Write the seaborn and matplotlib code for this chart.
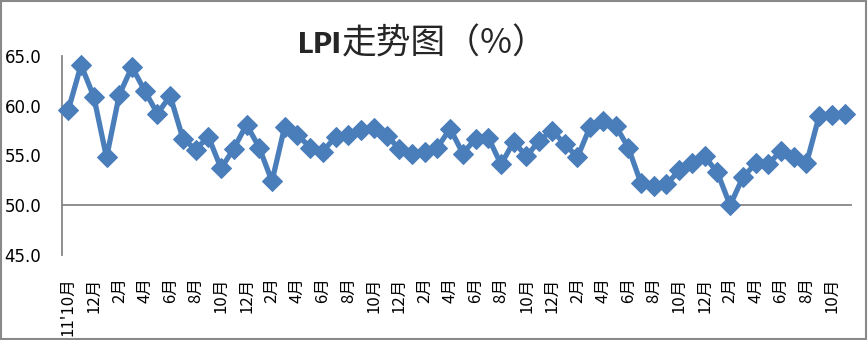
import matplotlib
matplotlib.use("Agg")
import matplotlib.pyplot as plt
import matplotlib.patches as mpatches
import numpy as np
import pandas as pd
import seaborn as sns

# ---- data ----
months = (["11'10月", "11月", "12月"]
          + [f"{m}月" for m in range(1, 13)] * 4
          + [f"{m}月" for m in range(1, 12)])
lpi = [59.6, 64.1, 60.9, 54.8, 61.1, 63.9, 61.5, 59.2, 61.0, 56.7,
       55.6, 56.9, 53.7, 55.7, 58.1, 55.8, 52.4, 57.9, 57.1, 55.8,
       55.4, 56.9, 57.1, 57.6, 57.8, 57.0, 55.7, 55.2, 55.4, 55.8,
       57.7, 55.2, 56.7, 56.8, 54.1, 56.4, 54.9, 56.5, 57.5, 56.2,
       54.8, 57.9, 58.5, 58.0, 55.8, 52.2, 51.9, 52.1, 53.5, 54.2,
       54.9, 53.3, 50.0, 52.8, 54.2, 54.1, 55.5, 54.8, 54.2, 59.0,
       59.1, 59.2]
y_ticks = [45.0, 50.0, 55.0, 60.0, 65.0]
title_latin = "LPI"
title_cjk = "走势图（%）"

df = pd.DataFrame({"idx": np.arange(len(lpi)), "month": months, "LPI": lpi})

sns.set_style("white")
plt.rcParams["font.family"] = ["Noto Sans CJK SC", "DejaVu Sans"]

fig = plt.figure(figsize=(8.68, 3.40), dpi=100)
ax = fig.add_axes([62 / 868, 1 - 255 / 340, (851 - 62) / 868, 199 / 340])

line_color = "#4A7EBB"
sns.lineplot(data=df, x="idx", y="LPI", ax=ax, color=line_color,
             linewidth=3.8, marker="D", markersize=10.5,
             markeredgecolor=line_color, markerfacecolor=line_color,
             clip_on=False, zorder=5)

ax.set_xlim(-0.5, len(lpi) - 0.5)
ax.set_ylim(45, 65)
ax.set_xlabel("")
ax.set_ylabel("")

gray = "#868686"
for s in ["top", "right"]:
    ax.spines[s].set_visible(False)
ax.spines["left"].set_color(gray)
ax.spines["left"].set_linewidth(1.3)
ax.spines["bottom"].set_color(gray)
ax.spines["bottom"].set_linewidth(1.3)
ax.spines["bottom"].set_position(("data", 50))

ax.set_yticks(y_ticks)
ax.set_yticklabels([f"{v:.1f}" for v in y_ticks], family="DejaVu Sans",
                   fontsize=12, color="black")
ax.tick_params(axis="y", direction="out", length=7, width=1.2, color=gray,
               pad=8)

label_pos = list(range(0, len(lpi), 2))
ax.set_xticks(label_pos)
ax.set_xticklabels([months[i] for i in label_pos], rotation=90,
                   fontsize=12, color="black", va="top", ha="center")
ax.set_xticks(np.arange(-0.5, len(lpi), 1.0), minor=True)
ax.tick_params(axis="x", which="major", length=0, pad=52)
ax.tick_params(axis="x", which="minor", direction="out", length=6,
               width=1.2, color=gray)

# title
fig.text(0.3925, 1 - 53 / 340, title_latin, ha="right", va="baseline",
         fontsize=21, fontweight="heavy", family="Lato")
fig.text(0.3935, 1 - 53 / 340, title_cjk, ha="left", va="baseline",
         fontsize=25, family=["Noto Sans CJK SC", "DejaVu Sans"])

# chart border
fig.patches.append(mpatches.Rectangle((0.0015, 0.003), 0.996, 0.993,
                                      transform=fig.transFigure, fill=False,
                                      edgecolor="#898989", linewidth=1.5))

fig.savefig("out.png", dpi=100)
